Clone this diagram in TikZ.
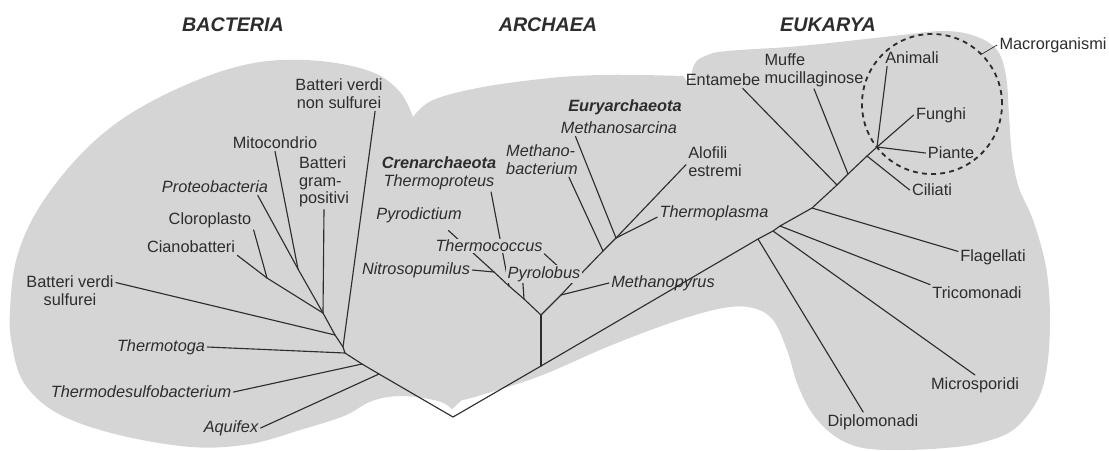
\documentclass[tikz,border=0pt]{standalone}
\usepackage{fontspec}
\setmainfont{Liberation Sans}
\usepackage{xcolor}
\usetikzlibrary{positioning}
\definecolor{blobgray}{RGB}{213,213,213}
\definecolor{inkgray}{RGB}{45,45,45}
\pgfdeclarelayer{blob}
\pgfdeclarelayer{links}
\pgfsetlayers{blob,links,main}

\begin{document}
\begin{tikzpicture}[x=0.025cm, y=-0.025cm,
    taxon/.style={inner sep=1.5pt, text=inkgray, font=\fontsize{11.6}{12.6}\selectfont},
    taxit/.style={taxon, font=\fontsize{11.6}{12.6}\selectfont\itshape},
    cladename/.style={taxon, font=\fontsize{11.6}{12.6}\selectfont\bfseries\itshape},
    domaintitle/.style={inner sep=0pt, text=inkgray, font=\fontsize{14}{16}\selectfont\bfseries\itshape},
    knock/.style={fill=blobgray, inner sep=1pt},
    branch/.style={draw=inkgray, line width=0.8pt, line cap=round, line join=round}]

    \useasboundingbox (0,0) rectangle (1109,450);

    % the three lobes
    \begin{pgfonlayer}{blob}
    \fill[blobgray] plot[smooth, tension=0.6] coordinates {(413,117) (400,92) (372,72) (320,61) (260,62) (200,79) (133,112) (83,152) (40,206) (17,257) (10,310) (12,345) (24,383) (57,413) (115,434) (191,447) (250,444) (300,430) (344,416) (372,401) (402,396) (438,401) (452,409)}
        -- plot[smooth, tension=0.6] coordinates {(462,400) (478,396) (540,376) (607,347) (673,322) (723,308) (753,308) (773,320) (787,350) (797,383) (810,410) (827,430) (847,443) (870,449) (905,450) (945,448) (980,443) (1013,430) (1037,401) (1047,367) (1050,317) (1046,267) (1033,220) (1019,188) (1012,155) (1009,115) (1006,76) (997,50) (975,36) (943,31) (893,36) (800,46) (727,51) (705,56) (694,65) (690,85)}
        -- plot[smooth, tension=0.6] coordinates {(683,76) (640,75) (600,75) (550,78) (483,87) (433,100) (413,117)}
        -- cycle;
    \end{pgfonlayer}

    % domains
    \node[domaintitle] (bacteria) at (233,25) {BACTERIA};
    \node[domaintitle] (archaea) at (548,25) {ARCHAEA};
    \node[domaintitle] (eukarya) at (828,25) {EUKARYA};

    % Bacteria
    \node[taxon, align=center] (bvs) at (70,291) {Batteri verdi\\sulfurei};
    \node[taxit] (thermotoga) at (161,347) {Thermotoga};
    \node[taxit] (thermodesulfo) at (141,392) {Thermodesulfobacterium};
    \node[taxit] (aquifex) at (231,428) {Aquifex};
    \node[taxon] (ciano) at (191,247) {Cianobatteri};
    \node[taxon] (cloro) at (210,220) {Cloroplasto};
    \node[taxit] (proteo) at (215,187) {Proteobacteria};
    \node[taxon] (mito) at (275,143) {Mitocondrio};
    \node[taxon, align=left] (gram) at (324,182) {Batteri\\gram-\\positivi};
    \node[taxon, align=center] (nonsulf) at (339,94) {Batteri verdi\\non sulfurei};

    % Archaea
    \node[cladename] (crenarch) at (439,163) {Crenarchaeota};
    \node[taxit] (thermoproteus) at (439,182) {Thermoproteus};
    \node[taxit] (pyrodictium) at (419,215) {Pyrodictium};
    \node[taxit, knock] (thermococcus) at (489,246) {Thermococcus};
    \node[taxit] (nitro) at (416,270) {Nitrosopumilus};
    \node[taxit, knock] (pyrolobus) at (544,274) {Pyrolobus};
    \node[taxit] (methanopyrus) at (663,283) {Methanopyrus};
    \node[taxit, align=left] (methanobact) at (542,160) {Methano-\\bacterium};
    \node[cladename] (euryarch) at (625,107) {Euryarchaeota};
    \node[taxit] (methanosarcina) at (619,128) {Methanosarcina};
    \node[taxon, align=left] (alofili) at (715,162) {Alofili\\estremi};
    \node[taxit] (thermoplasma) at (714,213) {Thermoplasma};

    % Eukarya
    \node[taxon] (entamebe) at (723,80) {Entamebe};
    \node[taxon, align=left] (muffe) at (814,70) {Muffe\\mucillaginose};
    \node[taxon] (animali) at (912,58) {Animali};
    \node[taxon] (funghi) at (941,115) {Funghi};
    \node[taxon] (piante) at (951,153) {Piante};
    \node[taxon] (ciliati) at (932,190) {Ciliati};
    \node[taxon] (flagellati) at (993,257) {Flagellati};
    \node[taxon] (tricomonadi) at (977,293) {Tricomonadi};
    \node[taxon] (microsporidi) at (975,385) {Microsporidi};
    \node[taxon] (diplomonadi) at (873,422) {Diplomonadi};
    \node[draw=inkgray, line width=1.3pt, dash pattern=on 3.5pt off 3pt, circle, minimum size=3.5cm, inner sep=0pt] (macrocircle) at (932,104) {};
    \node[taxon] (macro) at (1053,45) {Macrorganismi};
    \draw[draw=inkgray, line width=0.5pt] (macro.west) -- (macrocircle.45);

    % junctions
    \coordinate (root) at (453,417);
    \coordinate (bA) at (323,313);
    \coordinate (bB) at (335,335);
    \coordinate (bC) at (343,347);
    \coordinate (bD) at (345,353);
    \coordinate (bE) at (362,364);
    \coordinate (bF) at (379,374);
    \coordinate (bM) at (298,269);
    \coordinate (bK) at (267,278);
    \coordinate (aS) at (541,366);
    \coordinate (aT) at (541,315);
    \coordinate (aN) at (494,272);
    \coordinate (aP) at (509,286);
    \coordinate (aQ) at (524,299);
    \coordinate (aMp) at (561,295);
    \coordinate (aTc) at (574,281);
    \coordinate (aMb) at (603,251);
    \coordinate (aMs) at (616,238);
    \coordinate (eDp) at (758,239);
    \coordinate (eMi) at (773,231);
    \coordinate (eTr) at (780,226);
    \coordinate (eFl) at (812,208);
    \coordinate (eEn) at (837,185);
    \coordinate (eMu) at (848,174);
    \coordinate (eCi) at (867,156);
    \coordinate (eTop) at (877,147);

    \begin{pgfonlayer}{links}
    % trunks
    \draw[branch] (root) -- (bF) -- (bE) -- (bD) -- (bC) -- (bB) -- (bA);
    \draw[branch] (root) -- (aS) -- (eDp) -- (eMi) -- (eTr) -- (eFl) -- (eEn) -- (eMu) -- (eCi) -- (eTop);
    \draw[branch] (aS) -- (aT);
    \draw[branch] ([xshift=-11pt,yshift=-4pt]pyrodictium.south east) -- (aN) -- (aP) -- (aQ) -- (aT);
    \draw[branch] (aT) -- (aMp) -- (aTc) -- (aMb) -- (aMs) -- ([yshift=-2pt]alofili.west);

    % Bacteria leaves
    \draw[branch] ([yshift=6pt]bvs.east) -- (bB);
    \draw[branch] (thermotoga.east) -- (bD);
    \draw[branch] (thermodesulfo.east) -- (bE);
    \draw[branch] (aquifex.east) -- (bF);
    \draw[branch] (ciano.south east) -- (bK) -- (bA);
    \draw[branch] (cloro.south east) -- (bK);
    \draw[branch] ([xshift=-9pt]proteo.south east) -- (bM) -- (bA);
    \draw[branch] (mito.south) -- (bM);
    \draw[branch] (gram.south) -- (bA);
    \draw[branch] ([xshift=-7pt]nonsulf.south east) -- (bC);

    % Archaea leaves
    \draw[branch] ([xshift=-4pt]thermoproteus.south east) -- (aP);
    \draw[branch] (nitro.east) -- (aN);
    \draw[branch] ([xshift=12pt]pyrolobus.south west) -- (aQ);
    \draw[branch] (thermococcus.south east) -- (aTc);
    \draw[branch] (methanopyrus.west) -- (aMp);
    \draw[branch] ([xshift=-8pt]methanobact.south east) -- (aMb);
    \draw[branch] ([xshift=12pt]methanosarcina.south west) -- (aMs);
    \draw[branch] ([yshift=-3pt]thermoplasma.west) -- (aMs);

    % Eukarya leaves
    \draw[branch] ([yshift=4pt]flagellati.west) -- (eFl);
    \draw[branch] (tricomonadi.north west) -- (eTr);
    \draw[branch] (microsporidi.north) -- (eMi);
    \draw[branch] ([xshift=-7pt]diplomonadi.north) -- (eDp);
    \draw[branch] ([xshift=14pt]entamebe.south) -- (eEn);
    \draw[branch] (muffe.south) -- (eMu);
    \draw[branch] ([xshift=3pt]animali.south west) -- (eTop);
    \draw[branch] (funghi.west) -- (eTop);
    \draw[branch] (piante.west) -- (eTop);
    \draw[branch] (ciliati.west) -- (eCi);
    \end{pgfonlayer}
\end{tikzpicture}
\end{document}
